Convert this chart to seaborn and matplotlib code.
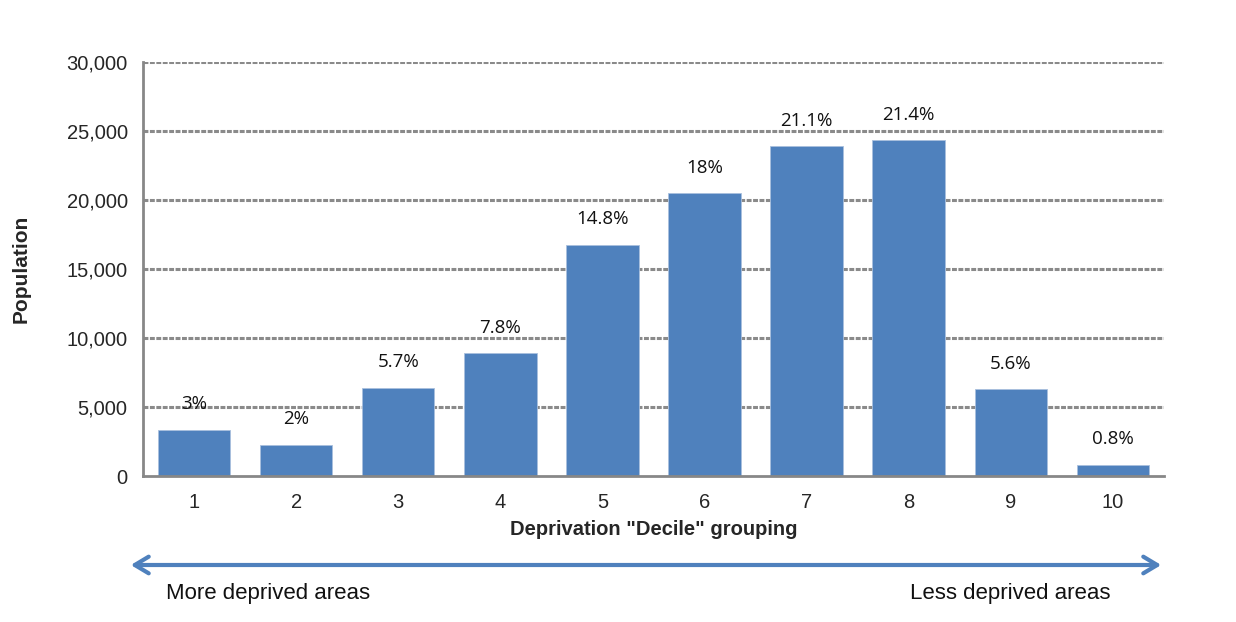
import matplotlib
matplotlib.use("Agg")
import matplotlib.pyplot as plt
import seaborn as sns
import pandas as pd

# Population by deprivation decile
deciles = ["1", "2", "3", "4", "5", "6", "7", "8", "9", "10"]
population = [3370, 2270, 6400, 8890, 16730, 20480, 23900, 24320, 6280, 830]
share_labels = ["3%", "2%", "5.7%", "7.8%", "14.8%", "18%", "21.1%", "21.4%", "5.6%", "0.8%"]
y_ticks = [0, 5000, 10000, 15000, 20000, 25000, 30000]

BAR = "#4F81BD"
AXIS = "#878787"

sns.set_style("white")
plt.rcParams["font.family"] = ["Liberation Sans", "DejaVu Sans"]

df = pd.DataFrame({"decile": deciles, "population": population})

fig = plt.figure(figsize=(12.36, 6.22), dpi=100)
ax = fig.add_axes([0.1157, 0.2347, 0.826, 0.6656])

sns.barplot(data=df, x="decile", y="population", color=BAR, saturation=1,
            width=0.71, edgecolor="#a9c0de", linewidth=0.6, ax=ax, zorder=3)

ax.set_xlim(-0.5, len(deciles) - 0.5)
ax.set_ylim(0, 30000)
ax.set_yticks(y_ticks)
ax.set_yticklabels([f"{t:,}" for t in y_ticks], fontsize=14.5)

# dashed horizontal gridlines
for t in y_ticks[1:]:
    ax.axhline(t, color="#8a8a8a", lw=2.2, ls=(0, (1.6, 0.5)), zorder=1)

for s in ["top", "right"]:
    ax.spines[s].set_visible(False)
for s in ["left", "bottom"]:
    ax.spines[s].set_color(AXIS)
    ax.spines[s].set_linewidth(2)
    ax.spines[s].set_zorder(4)

# category tick labels centred, tick marks on category boundaries
ax.set_xticks(range(len(deciles)))
ax.set_xticklabels(deciles, fontsize=14.5)
ax.tick_params(axis="x", which="major", length=0, pad=12)
ax.set_xticks([i - 0.5 for i in range(len(deciles) + 1)], minor=True)
ax.tick_params(axis="x", which="minor", length=7, width=2, color=AXIS, direction="out")
ax.tick_params(axis="y", length=7, width=2, color=AXIS, direction="out", pad=4)

ax.set_xlabel('Deprivation "Decile" grouping', fontsize=14.5, fontweight="bold", labelpad=6)
ax.set_ylabel("Population", fontsize=15, fontweight="bold", labelpad=26)

# share of population above each bar
for i, (v, lab) in enumerate(zip(population, share_labels)):
    ax.annotate(lab, (i, v), xytext=(0, 12), textcoords="offset points",
                ha="center", va="bottom", fontsize=13.5,
                family=["Open Sans", "DejaVu Sans"], color="#111111")

# direction-of-deprivation arrow below the axis
fig.patches.append(matplotlib.patches.FancyArrowPatch(
    (128 / 1236, 1 - 565 / 622), (1164 / 1236, 1 - 565 / 622),
    transform=fig.transFigure, arrowstyle="<->,head_length=10,head_width=6",
    color=BAR, lw=3, mutation_scale=1))
fig.text(166 / 1236, 1 - 593 / 622, "More deprived areas", fontsize=16,
         ha="left", va="center", color="#111111")
fig.text(1111 / 1236, 1 - 593 / 622, "Less deprived areas", fontsize=16,
         ha="right", va="center", color="#111111")

fig.savefig("out.png", dpi=100, facecolor="white")
